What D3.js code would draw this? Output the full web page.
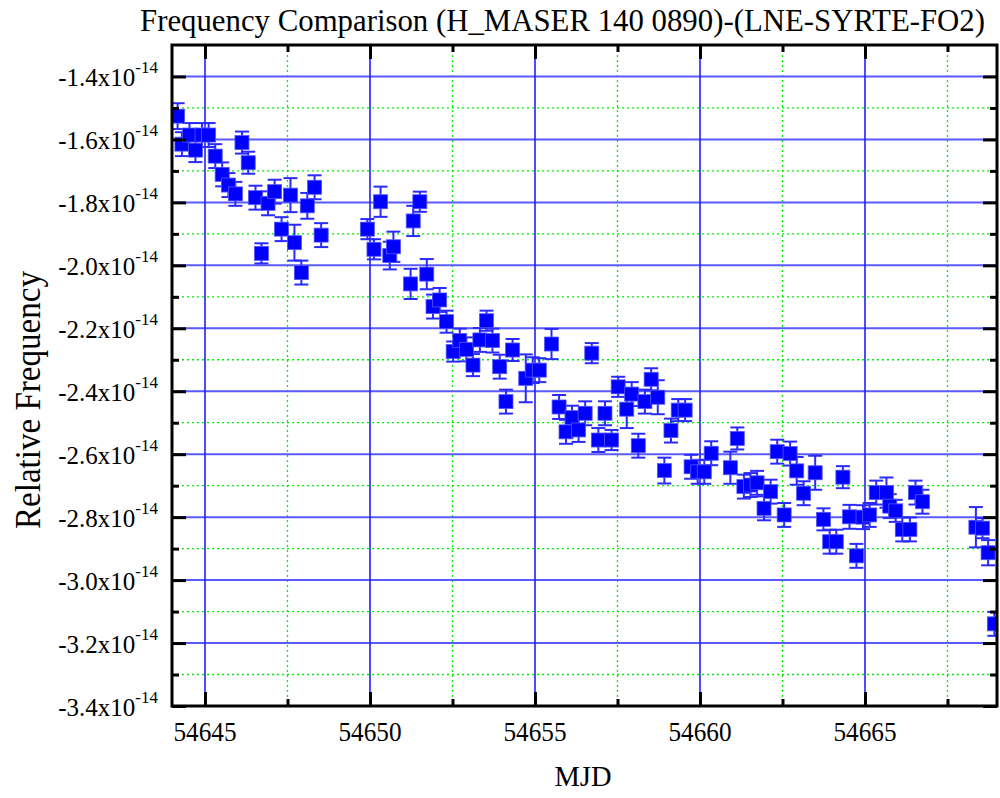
<!DOCTYPE html>
<html>
<head>
<meta charset="utf-8">
<title>Frequency Comparison</title>
<script src="https://d3js.org/d3.v7.min.js"></script>
<style>
  body { margin: 0; background: #fff; }
  text { font-family: "Liberation Serif", "DejaVu Serif", serif; fill: #000; }
  .tick line { stroke: #000; stroke-width: 3; }
  .domain { display: none; }
</style>
</head>
<body>
<div id="chart"></div>
<script>
// MJD of each measurement
const mjd = [
  54644.17, 54644.30, 54644.53, 54644.71, 54644.91, 54645.11, 54645.31, 54645.52, 54645.71, 54645.92,
  54646.12, 54646.31, 54646.53, 54646.71, 54646.91, 54647.11, 54647.32, 54647.59, 54647.71, 54647.92,
  54648.10, 54648.32, 54648.52,
  54649.92, 54650.12, 54650.32, 54650.60, 54650.71, 54651.23, 54651.31, 54651.51, 54651.72, 54651.91,
  54652.11, 54652.32, 54652.52, 54652.72, 54652.92, 54653.12, 54653.33, 54653.53, 54653.71, 54653.93,
  54654.12, 54654.32, 54654.72, 54654.93, 54655.13, 54655.50, 54655.73, 54655.94,
  54656.12, 54656.32, 54656.52, 54656.72, 54656.92, 54657.12, 54657.32, 54657.52, 54657.78, 54657.93,
  54658.13, 54658.33, 54658.52, 54658.72, 54658.92, 54659.12, 54659.34, 54659.55, 54659.73, 54659.93,
  54660.13, 54660.34, 54660.92, 54661.13, 54661.33, 54661.53, 54661.73, 54661.94,
  54662.14, 54662.34, 54662.55, 54662.73, 54662.93, 54663.14, 54663.49, 54663.74, 54663.93,
  54664.13, 54664.33, 54664.53, 54664.74, 54664.94, 54665.14, 54665.34, 54665.65, 54665.75, 54665.93,
  54666.13, 54666.36, 54666.53, 54666.74,
  54668.36, 54668.56, 54668.73, 54668.92
];

// relative frequency, in units of 1e-14
const freq = [
  -1.526, -1.615, -1.586, -1.634, -1.586, -1.586, -1.653, -1.711, -1.745, -1.773,
  -1.610, -1.674, -1.785, -1.962, -1.803, -1.766, -1.885, -1.777, -1.928, -2.023,
  -1.811, -1.752, -1.904,
  -1.885, -1.949, -1.798, -1.969, -1.941, -2.059, -1.859, -1.798, -2.028, -2.131,
  -2.110, -2.179, -2.274, -2.239, -2.267, -2.317, -2.237, -2.176, -2.239, -2.322,
  -2.433, -2.269, -2.359, -2.333, -2.333, -2.250, -2.450, -2.529,
  -2.484, -2.523, -2.470, -2.279, -2.555, -2.470, -2.555, -2.386, -2.457, -2.409,
  -2.573, -2.433, -2.362, -2.419, -2.652, -2.525, -2.460, -2.460, -2.640, -2.656,
  -2.656, -2.597, -2.643, -2.550, -2.703, -2.698, -2.691, -2.772,
  -2.719, -2.592, -2.793, -2.598, -2.653, -2.724, -2.659, -2.807, -2.878,
  -2.878, -2.673, -2.799, -2.923, -2.800, -2.793, -2.722, -2.722, -2.765, -2.780,
  -2.839, -2.839, -2.722, -2.751,
  -2.832, -2.835, -2.913, -3.139
];

// error bar half-heights, 1e-14
const errs = [
  0.041, 0.038, 0.038, 0.038, 0.038, 0.038, 0.038, 0.038, 0.038, 0.038,
  0.035, 0.035, 0.038, 0.032, 0.038, 0.038, 0.038, 0.054, 0.057, 0.038,
  0.041, 0.038, 0.038,
  0.032, 0.032, 0.048, 0.044, 0.048, 0.048, 0.048, 0.032, 0.048, 0.038,
  0.038, 0.035, 0.032, 0.038, 0.038, 0.035, 0.038, 0.032, 0.038, 0.038,
  0.038, 0.035, 0.076, 0.041, 0.038, 0.048, 0.038, 0.038,
  0.038, 0.038, 0.038, 0.032, 0.038, 0.038, 0.032, 0.032, 0.060, 0.038,
  0.038, 0.038, 0.035, 0.054, 0.041, 0.038, 0.035, 0.035, 0.038, 0.038,
  0.038, 0.038, 0.051, 0.035, 0.038, 0.038, 0.038, 0.038,
  0.038, 0.038, 0.038, 0.038, 0.044, 0.038, 0.054, 0.035, 0.038,
  0.038, 0.035, 0.038, 0.038, 0.038, 0.038, 0.038, 0.048, 0.038, 0.035,
  0.038, 0.038, 0.038, 0.038,
  0.064, 0.032, 0.040, 0.038
];

const xMajor = [54645, 54650, 54655, 54660, 54665];
const xMinor = [54647.5, 54652.5, 54657.5, 54662.5, 54667.5];
const yMajor = [-3.4, -3.2, -3.0, -2.8, -2.6, -2.4, -2.2, -2.0, -1.8, -1.6, -1.4];
const yMinor = [-3.3, -3.1, -2.9, -2.7, -2.5, -2.3, -2.1, -1.9, -1.7, -1.5];

const W = 1000, H = 798;
const pL = 172, pR = 997, pT = 45, pB = 706;

const svg = d3.select('#chart').append('svg')
  .attr('width', W)
  .attr('height', H);

const x = d3.scaleLinear().domain([54644, 54669]).range([pL, pR]);
const y = d3.scaleLinear().domain([-3.4, -1.3]).range([pB, pT]);

// grid
svg.append('g').selectAll('line')
  .data(yMinor).join('line')
  .attr('x1', pL).attr('x2', pR)
  .attr('y1', d => y(d)).attr('y2', d => y(d))
  .attr('stroke', '#00ee00').attr('stroke-width', 1.3)
  .attr('stroke-dasharray', '2,3');
svg.append('g').selectAll('line')
  .data(xMinor).join('line')
  .attr('y1', pT).attr('y2', pB)
  .attr('x1', d => x(d)).attr('x2', d => x(d))
  .attr('stroke', '#00ee00').attr('stroke-width', 1.3)
  .attr('stroke-dasharray', '2,3');
svg.append('g').selectAll('line')
  .data(yMajor.slice(1)).join('line')
  .attr('x1', pL).attr('x2', pR)
  .attr('y1', d => y(d)).attr('y2', d => y(d))
  .attr('stroke', '#5a5aff').attr('stroke-width', 2);
svg.append('g').selectAll('line')
  .data(xMajor).join('line')
  .attr('y1', pT).attr('y2', pB)
  .attr('x1', d => x(d)).attr('x2', d => x(d))
  .attr('stroke', '#2020ff').attr('stroke-width', 1.6);

// data
svg.append('clipPath').attr('id', 'plot')
  .append('rect')
  .attr('x', pL).attr('y', pT)
  .attr('width', pR - pL).attr('height', pB - pT);

const pts = mjd.map((m, i) => ({ m: m, f: freq[i], e: errs[i] }));
const g = svg.append('g').attr('clip-path', 'url(#plot)');

const bars = g.append('g')
  .attr('stroke', '#2a2aff')
  .attr('stroke-width', 2);
bars.selectAll('.stem').data(pts).join('line')
  .attr('x1', d => x(d.m)).attr('x2', d => x(d.m))
  .attr('y1', d => y(d.f + d.e)).attr('y2', d => y(d.f - d.e));
bars.selectAll('.capt').data(pts).join('line')
  .attr('x1', d => x(d.m) - 7).attr('x2', d => x(d.m) + 7)
  .attr('y1', d => y(d.f + d.e)).attr('y2', d => y(d.f + d.e));
bars.selectAll('.capb').data(pts).join('line')
  .attr('x1', d => x(d.m) - 7).attr('x2', d => x(d.m) + 7)
  .attr('y1', d => y(d.f - d.e)).attr('y2', d => y(d.f - d.e));

g.append('g').selectAll('rect').data(pts).join('rect')
  .attr('x', d => x(d.m) - 7)
  .attr('y', d => y(d.f) - 7)
  .attr('width', 14).attr('height', 14)
  .attr('fill', '#0000ff')
  .attr('stroke', '#5555ff').attr('stroke-width', 0.8);

// axes: ticks on all four sides, pointing inwards
function ticks(axis, vals, size, tr) {
  svg.append('g')
    .attr('transform', tr)
    .call(axis.tickValues(vals).tickSize(size).tickFormat(''));
}
ticks(d3.axisBottom(x), xMajor, -14, `translate(0,${pB})`);
ticks(d3.axisBottom(x), xMinor, -7, `translate(0,${pB})`);
ticks(d3.axisTop(x), xMajor, -14, `translate(0,${pT})`);
ticks(d3.axisTop(x), xMinor, -7, `translate(0,${pT})`);
ticks(d3.axisLeft(y), yMajor, -14, `translate(${pL},0)`);
ticks(d3.axisLeft(y), yMinor, -7, `translate(${pL},0)`);
ticks(d3.axisRight(y), yMajor, -14, `translate(${pR},0)`);
ticks(d3.axisRight(y), yMinor, -7, `translate(${pR},0)`);

svg.append('rect')
  .attr('x', pL).attr('y', pT)
  .attr('width', pR - pL).attr('height', pB - pT)
  .attr('fill', 'none').attr('stroke', '#000').attr('stroke-width', 3);

// tick labels
svg.append('g').selectAll('text')
  .data(xMajor).join('text')
  .attr('x', d => x(d)).attr('y', 741)
  .attr('text-anchor', 'middle')
  .attr('font-size', 28)
  .attr('textLength', 63).attr('lengthAdjust', 'spacingAndGlyphs')
  .text(d => d);

const yl = svg.append('g').selectAll('text')
  .data(yMajor).join('text')
  .attr('x', 158).attr('y', d => y(d) + 10)
  .attr('text-anchor', 'end')
  .attr('font-size', 25);
yl.append('tspan').text(d => d.toFixed(1) + 'x10');
yl.append('tspan').attr('font-size', 17).attr('dy', -13).text('-14');

// titles
svg.append('text')
  .attr('x', 140).attr('y', 31)
  .attr('font-size', 31)
  .attr('textLength', 845).attr('lengthAdjust', 'spacingAndGlyphs')
  .text('Frequency Comparison (H_MASER 140 0890)-(LNE-SYRTE-FO2)');

svg.append('text')
  .attr('x', 583).attr('y', 786)
  .attr('text-anchor', 'middle')
  .attr('font-size', 30)
  .attr('textLength', 57).attr('lengthAdjust', 'spacingAndGlyphs')
  .text('MJD');

svg.append('text')
  .attr('transform', 'translate(40,400) rotate(-90)')
  .attr('text-anchor', 'middle')
  .attr('font-size', 35)
  .attr('textLength', 258).attr('lengthAdjust', 'spacingAndGlyphs')
  .text('Relative Frequency');
</script>
</body>
</html>
